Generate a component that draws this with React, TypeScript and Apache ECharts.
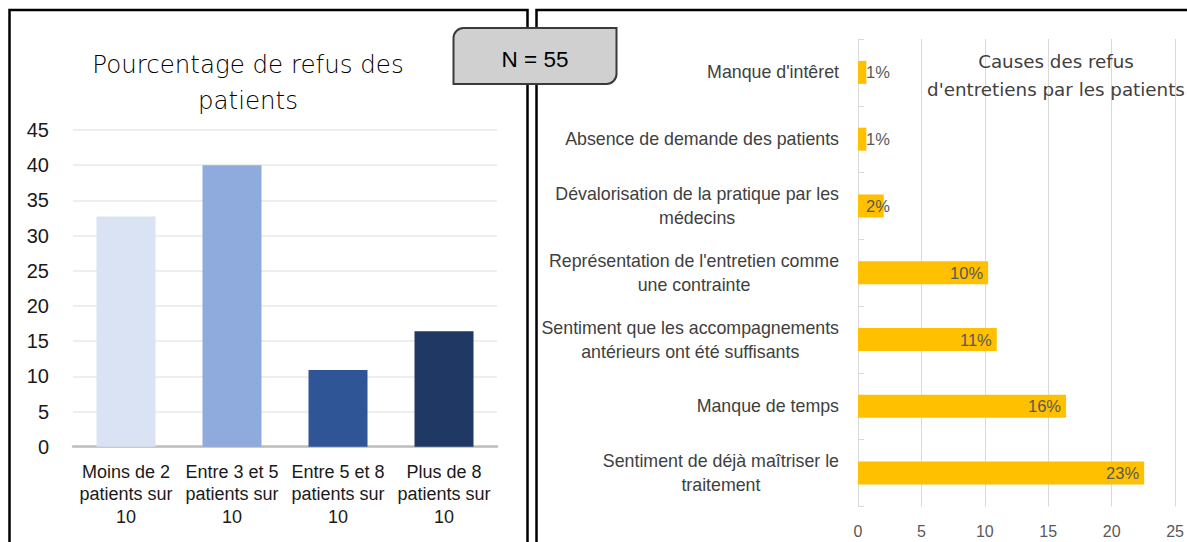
import React, { useEffect, useRef } from 'react';
import * as echarts from 'echarts';

// ---- Left chart data ----
const refusCategories = [
  'Moins de 2\npatients sur\n10',
  'Entre 3 et 5\npatients sur\n10',
  'Entre 5 et 8\npatients sur\n10',
  'Plus de 8\npatients sur\n10',
];
const refusValues = [32.7, 40, 10.9, 16.4];
const refusColors = ['#DAE3F3', '#8FAADC', '#2F5597', '#203864'];
const refusAxisMin = 0;
const refusAxisMax = 45;
const refusAxisStep = 5;

// ---- Right chart data ----
const causesCategories = [
  "Manque d'intêret",
  'Absence de demande des patients',
  'Dévalorisation de la pratique par les\nmédecins',
  "Représentation de l'entretien comme\nune contrainte",
  'Sentiment que les accompagnements\nantérieurs ont été suffisants',
  'Manque de temps',
  'Sentiment de déjà maîtriser le\ntraitement',
];
const causesValues = [0.66, 0.66, 2.03, 10.26, 10.94, 16.4, 22.56];
const causesLabels = ['1%', '1%', '2%', '10%', '11%', '16%', '23%'];
const causesAxisMin = 0;
const causesAxisMax = 25;
const causesAxisStep = 5;

const SANS = "'Liberation Sans', Arial, sans-serif";
const LIGHT = "'DejaVu Sans', 'Liberation Sans', sans-serif";

export default function App() {
  const ref = useRef<HTMLDivElement>(null);

  useEffect(() => {
    document.body.style.margin = '0';
    const chart = echarts.init(ref.current as HTMLDivElement, null, { renderer: 'svg' });

    chart.setOption({
      animation: false,
      backgroundColor: '#ffffff',
      title: [
        {
          text: 'Pourcentage de refus des\npatients',
          left: 248,
          top: 46,
          textAlign: 'center',
          padding: 0,
          textStyle: {
            fontFamily: LIGHT,
            fontWeight: 200,
            fontSize: 24.5,
            lineHeight: 36,
            color: '#000000',
          },
        },
        {
          text: "Causes des refus\nd'entretiens par les patients",
          left: 1056,
          top: 47.5,
          textAlign: 'center',
          padding: 0,
          textStyle: {
            fontFamily: LIGHT,
            fontWeight: 'normal',
            fontSize: 18.3,
            lineHeight: 28.3,
            color: '#404040',
          },
        },
      ],
      grid: [
        { left: 73, right: 690, top: 130, bottom: 95.3 },
        { left: 858, right: 10.3, top: 39, bottom: 35.5 },
      ],
      xAxis: [
        {
          type: 'category',
          gridIndex: 0,
          data: refusCategories,
          axisLine: { show: true, lineStyle: { color: '#BFBFBF', width: 2.5 } },
          axisTick: { show: false },
          axisLabel: {
            interval: 0,
            margin: 14,
            fontFamily: SANS,
            fontSize: 18,
            lineHeight: 22.5,
            color: '#1a1a1a',
          },
        },
        {
          type: 'value',
          gridIndex: 1,
          min: causesAxisMin,
          max: causesAxisMax,
          interval: causesAxisStep,
          axisLine: { show: false },
          axisTick: { show: false },
          splitLine: { show: true, lineStyle: { color: '#D9D9D9', width: 1 } },
          axisLabel: { margin: 17, fontFamily: SANS, fontSize: 16, color: '#595959' },
        },
      ],
      yAxis: [
        {
          type: 'value',
          gridIndex: 0,
          min: refusAxisMin,
          max: refusAxisMax,
          interval: refusAxisStep,
          axisLine: { show: false },
          axisTick: { show: false },
          splitLine: { show: true, lineStyle: { color: '#EEEEEE', width: 2 } },
          axisLabel: { margin: 24, fontFamily: SANS, fontSize: 20, color: '#1a1a1a' },
        },
        {
          type: 'category',
          gridIndex: 1,
          inverse: true,
          data: causesCategories,
          axisLine: { show: true, lineStyle: { color: '#D9D9D9', width: 1 } },
          axisTick: { show: true, inside: true, length: 6, lineStyle: { color: '#D9D9D9' } },
          axisLabel: {
            interval: 0,
            margin: 19,
            formatter: (v: string) =>
              v
                .split('\n')
                .map((l) => `{c|${l}}`)
                .join('\n'),
            rich: {
              c: {
                align: 'center',
                fontFamily: SANS,
                fontSize: 17.8,
                lineHeight: 24,
                color: '#404040',
              },
            },
          },
        },
      ],
      series: [
        {
          type: 'bar',
          xAxisIndex: 0,
          yAxisIndex: 0,
          barWidth: 59,
          data: refusValues.map((v, i) => ({ value: v, itemStyle: { color: refusColors[i] } })),
        },
        {
          type: 'bar',
          xAxisIndex: 1,
          yAxisIndex: 1,
          barWidth: 23,
          itemStyle: { color: '#FFC000' },
          label: {
            show: true,
            position: 'insideRight',
            distance: 5,
            fontFamily: SANS,
            fontSize: 16.5,
            color: '#595959',
            formatter: (p: any) => causesLabels[p.dataIndex],
          },
          data: causesValues.map((v) =>
            v < 5
              ? { value: v, label: { position: 'insideLeft', distance: 8 } }
              : { value: v }
          ),
        },
      ],
      graphic: [
        {
          type: 'rect',
          z: 10,
          shape: { x: 9.5, y: 10, width: 518, height: 600 },
          style: { fill: 'none', stroke: '#000000', lineWidth: 2.5 },
        },
        {
          type: 'rect',
          z: 10,
          shape: { x: 536.5, y: 10, width: 700, height: 600 },
          style: { fill: 'none', stroke: '#000000', lineWidth: 2.5 },
        },
        {
          type: 'rect',
          z: 20,
          shape: { x: 453.5, y: 28, width: 163, height: 56, r: [10, 0, 10, 0] },
          style: { fill: '#D0D0D0', stroke: '#3A3A3A', lineWidth: 2 },
        },
        {
          type: 'text',
          z: 21,
          x: 535,
          y: 59,
          style: {
            text: 'N = 55',
            fontFamily: SANS,
            fontSize: 22.5,
            fill: '#000000',
            align: 'center',
            verticalAlign: 'middle',
          },
        },
      ],
    });

    return () => {
      chart.dispose();
    };
  }, []);

  return <div ref={ref} style={{ width: 1187, height: 542 }} />;
}
